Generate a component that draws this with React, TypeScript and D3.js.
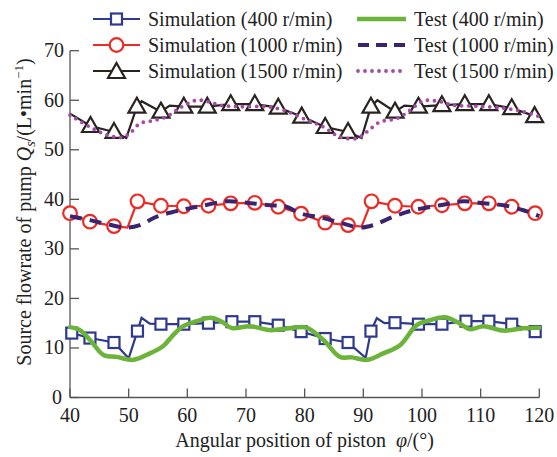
import React from "react";
import * as d3 from "d3";

// ---------- data ----------
const xTicks = [40, 50, 60, 70, 80, 90, 100, 110, 120];
const yTicks = [0, 10, 20, 30, 40, 50, 60, 70];

// Simulation 400 r/min (squares)
const sim400MarkX = [40.3, 43.4, 47.5, 51.5, 55.5, 59.4, 63.6, 67.6, 71.5, 75.5, 79.4, 83.5, 87.4, 91.3, 95.4, 99.4, 103.4, 107.5, 111.4, 115.3, 119.3];
const sim400MarkY = [13.0, 12.0, 11.1, 13.4, 14.8, 14.8, 15.0, 15.3, 15.3, 14.6, 13.3, 11.9, 11.1, 13.4, 15.1, 14.8, 14.8, 15.4, 15.4, 14.8, 13.3];
const sim400ExtraX = [40, 50.0, 52.2, 53.6, 90.4, 92.3, 93.6, 120];
const sim400ExtraY = [13.1, 7.9, 16.1, 14.9, 8.0, 16.0, 15.0, 13.0];

// Simulation 1000 r/min (circles)
const sim1000MarkX = [40.0, 43.4, 47.5, 51.5, 55.5, 59.4, 63.6, 67.4, 71.5, 75.5, 79.4, 83.5, 87.4, 91.4, 95.4, 99.4, 103.4, 107.3, 111.4, 115.3, 119.3];
const sim1000MarkY = [37.2, 35.5, 34.6, 39.6, 38.7, 38.6, 38.7, 39.2, 39.3, 38.5, 37.1, 35.3, 34.8, 39.6, 38.7, 38.5, 38.8, 39.2, 39.2, 38.5, 37.2];
const sim1000ExtraX = [49.8, 89.7, 120];
const sim1000ExtraY = [34.3, 34.5, 36.8];

// Simulation 1500 r/min (triangles)
const sim1500MarkX = [43.5, 47.5, 51.4, 55.5, 59.4, 63.4, 67.4, 71.5, 75.5, 79.5, 83.5, 87.4, 91.3, 95.4, 99.4, 103.4, 107.3, 111.4, 115.3, 119.2];
const sim1500MarkY = [54.8, 53.6, 58.7, 57.7, 58.7, 58.7, 59.2, 59.2, 58.5, 56.7, 54.6, 53.6, 58.7, 57.7, 58.7, 59.0, 59.2, 59.2, 58.4, 56.8];
const sim1500ExtraX = [40, 49.6, 52.2, 57.0, 89.7, 92.4, 97.0, 120];
const sim1500ExtraY = [57.3, 52.4, 59.8, 58.9, 52.4, 60.0, 58.9, 56.2];

// Test curves
const test400X = [40, 41.7, 43.5, 45.7, 48.0, 50.8, 53.6, 55.9, 57.5, 59.3, 61.6, 63.9, 65.9, 67.6, 70.7, 74.1, 77.5, 80.3, 83.2, 86.0, 88.0, 90.6, 93.4, 96.3, 99.1, 101.4, 103.9, 105.9, 108.2, 110.5, 113.9, 117.3, 120];
const test400Y = [14.2, 13.6, 11.5, 8.6, 8.2, 7.6, 8.9, 10.4, 12.5, 14.4, 15.4, 16.1, 15.3, 14.0, 14.4, 13.6, 14.0, 14.1, 11.6, 8.2, 8.1, 7.6, 8.9, 10.6, 14.6, 15.6, 16.2, 15.3, 13.8, 14.4, 13.5, 14.0, 14.1];

const test1000X = [40, 43.4, 46.3, 49.7, 51.9, 54.8, 58.8, 62.2, 66.7, 70.1, 74.1, 76.9, 79.2, 83.2, 86.0, 89.4, 91.7, 95.1, 98.5, 103.1, 107.0, 110.5, 113.9, 117.3, 120];
const test1000Y = [36.6, 35.8, 35.0, 34.3, 34.8, 36.5, 37.8, 38.6, 39.6, 39.3, 38.8, 38.5, 37.2, 36.2, 35.3, 34.3, 34.8, 36.5, 37.8, 38.8, 39.6, 39.2, 38.8, 37.8, 36.6];

const test1500X = [40, 43.4, 46.3, 48.8, 50.2, 51.9, 54.2, 56.5, 58.8, 61.6, 63.6, 65.6, 69.0, 73.5, 76.4, 79.8, 83.2, 86.0, 88.9, 90.6, 92.8, 95.7, 98.0, 100.2, 103.1, 105.3, 109.3, 113.9, 117.3, 120];
const test1500Y = [57.0, 54.6, 53.0, 52.5, 53.3, 55.3, 55.9, 56.7, 58.5, 60.0, 59.7, 59.0, 58.7, 58.7, 58.0, 56.3, 54.6, 52.6, 52.3, 53.6, 55.6, 56.3, 58.0, 59.9, 59.7, 59.0, 58.8, 58.4, 57.7, 56.7];

const simLabels = ["Simulation (400 r/min)", "Simulation (1000 r/min)", "Simulation (1500 r/min)"];
const testLabels = ["Test (400 r/min)", "Test (1000 r/min)", "Test (1500 r/min)"];

// ---------- styles ----------
const FONT = "'Liberation Serif', 'Times New Roman', serif";
const C_BLUE = "#2e3a8f";
const C_RED = "#ee2a24";
const C_BLACK = "#2a2420";
const C_GREEN = "#6cb33a";
const C_NAVY = "#3a2470";
const C_PINK = "#a54aa5";
const AXIS = "#555";

type Pt = [number, number];
const zip = (xs: number[], ys: number[]): Pt[] => xs.map((x, i) => [x, ys[i]] as Pt);
const merged = (mx: number[], my: number[], ex: number[], ey: number[]): Pt[] =>
  [...zip(mx, my), ...zip(ex, ey)].sort((a, b) => a[0] - b[0]);

export default function App() {
  const W = 557, H = 457;
  const x = d3.scaleLinear().domain([40, 120]).range([70, 539.3]);
  const y = d3.scaleLinear().domain([0, 70]).range([397.5, 50.7]);

  const lin = d3.line<Pt>().x(d => x(d[0])).y(d => y(d[1]));
  const smooth = d3.line<Pt>().x(d => x(d[0])).y(d => y(d[1])).curve(d3.curveCatmullRom.alpha(0.5));

  const sq = (cx: number, cy: number, s = 11) => (
    <rect x={cx - s / 2} y={cy - s / 2} width={s} height={s} fill="white" stroke={C_BLUE} strokeWidth={2.2} />
  );
  const circ = (cx: number, cy: number) => (
    <circle cx={cx} cy={cy} r={6.8} fill="white" stroke={C_RED} strokeWidth={2.2} />
  );
  const tri = (cx: number, cy: number) => (
    <path d={`M${cx},${cy - 9}L${cx + 8.5},${cy + 6}L${cx - 8.5},${cy + 6}Z`} fill="white" stroke={C_BLACK} strokeWidth={2.2} strokeLinejoin="miter" />
  );

  const s400 = merged(sim400MarkX, sim400MarkY, sim400ExtraX, sim400ExtraY);
  const s1000 = merged(sim1000MarkX, sim1000MarkY, sim1000ExtraX, sim1000ExtraY);
  const s1500 = merged(sim1500MarkX, sim1500MarkY, sim1500ExtraX, sim1500ExtraY);

  const legRows = [19, 45, 71];

  return (
    <svg width={W} height={H} style={{ position: "absolute", left: 0, top: 0, background: "white" }} fontFamily={FONT}>
      <rect width={W} height={H} fill="white" />
      {/* axes */}
      <line x1={70} x2={70} y1={y(70)} y2={y(0)} stroke={AXIS} strokeWidth={1.3} />
      <line x1={70} x2={539.3} y1={y(0)} y2={y(0)} stroke={AXIS} strokeWidth={1.3} />
      {yTicks.map(t => (
        <g key={"y" + t}>
          <line x1={70} x2={79} y1={y(t)} y2={y(t)} stroke={AXIS} strokeWidth={1.3} />
          <text x={t === 0 ? 62 : 64} y={y(t) + 6.5} textAnchor="end" fontSize={20} fill="#222">{t}</text>
        </g>
      ))}
      {xTicks.map(t => (
        <g key={"x" + t}>
          <line x1={x(t)} x2={x(t)} y1={y(0)} y2={y(0) - 9} stroke={AXIS} strokeWidth={1.3} />
          <text x={x(t)} y={422} textAnchor="middle" fontSize={20} fill="#222">{t}</text>
        </g>
      ))}
      {/* axis titles */}
      <text x={304.6} y={447} textAnchor="middle" fontSize={20} fill="#222" xmlSpace="preserve">
        Angular position of piston{"  "}<tspan fontStyle="italic">φ</tspan>/(°)
      </text>
      <text transform="translate(31,212) rotate(-90)" textAnchor="middle" fontSize={20} fill="#222">
        Source flowrate of pump <tspan fontStyle="italic">Q</tspan>
        <tspan fontStyle="italic" fontSize={14} dy={4}>s</tspan>
        <tspan dy={-4}>/(L•min</tspan>
        <tspan fontSize={13} dy={-8}>−1</tspan>
        <tspan dy={8}>)</tspan>
      </text>

      {/* simulation lines */}
      <path d={lin(s400) || ""} fill="none" stroke={C_BLUE} strokeWidth={2.2} />
      <path d={lin(s1000) || ""} fill="none" stroke={C_RED} strokeWidth={2.2} />
      <path d={lin(s1500) || ""} fill="none" stroke={C_BLACK} strokeWidth={2.2} />
      {sim400MarkX.map((v, i) => <g key={"m4" + i}>{sq(x(v), y(sim400MarkY[i]))}</g>)}
      {sim1000MarkX.map((v, i) => <g key={"m10" + i}>{circ(x(v), y(sim1000MarkY[i]))}</g>)}
      {sim1500MarkX.map((v, i) => <g key={"m15" + i}>{tri(x(v), y(sim1500MarkY[i]))}</g>)}

      {/* test lines */}
      <path d={smooth(zip(test400X, test400Y)) || ""} fill="none" stroke={C_GREEN} strokeWidth={4.5} strokeLinecap="round" />
      <path d={smooth(zip(test1000X, test1000Y)) || ""} fill="none" stroke={C_NAVY} strokeWidth={4} strokeDasharray="12 8" />
      <path d={smooth(zip(test1500X, test1500Y)) || ""} fill="none" stroke={C_PINK} strokeWidth={3.8} strokeDasharray="0 7" strokeLinecap="round" />

      {/* legend */}
      <line x1={93} x2={140} y1={legRows[0]} y2={legRows[0]} stroke={C_BLUE} strokeWidth={2.2} />
      {sq(116.5, legRows[0])}
      <line x1={93} x2={140} y1={legRows[1]} y2={legRows[1]} stroke={C_RED} strokeWidth={2.2} />
      {circ(116.5, legRows[1])}
      <line x1={93} x2={140} y1={legRows[2]} y2={legRows[2]} stroke={C_BLACK} strokeWidth={2.2} />
      {tri(116.5, legRows[2] + 1)}
      {simLabels.map((s, i) => (
        <text key={s} x={148} y={legRows[i] + 7} fontSize={20} fill="#222">{s}</text>
      ))}
      <line x1={357} x2={406} y1={legRows[0]} y2={legRows[0]} stroke={C_GREEN} strokeWidth={4.5} />
      <line x1={358} x2={406} y1={legRows[1]} y2={legRows[1]} stroke={C_NAVY} strokeWidth={4} strokeDasharray="11 7" />
      <line x1={358} x2={406} y1={legRows[2]} y2={legRows[2]} stroke={C_PINK} strokeWidth={3.8} strokeDasharray="0 7" strokeLinecap="round" />
      {testLabels.map((s, i) => (
        <text key={s} x={414} y={legRows[i] + 7} fontSize={20} fill="#222">{s}</text>
      ))}
    </svg>
  );
}
